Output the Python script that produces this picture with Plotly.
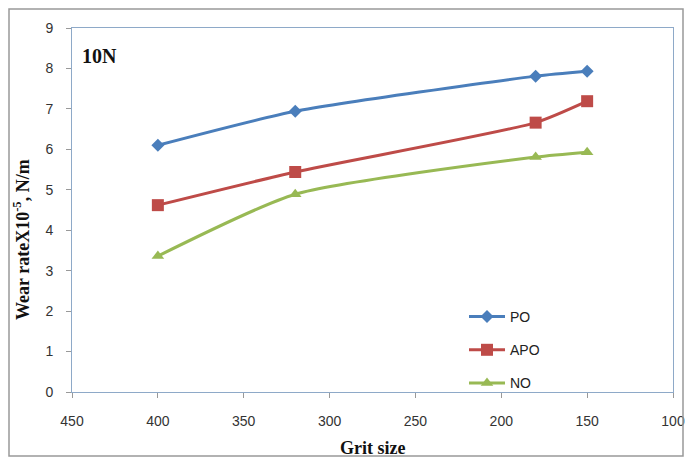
import plotly.graph_objects as go

grit = [400, 320, 180, 150]
po = [6.1, 6.94, 7.81, 7.93]
apo = [4.62, 5.44, 6.66, 7.19]
no = [3.36, 4.89, 5.81, 5.93]

names = ["PO", "APO", "NO"]
colors = ["#4A7EBB", "#BE4B48", "#98B954"]
symbols = ["diamond", "square", "triangle-up"]
msizes = [10, 12, 11]
series = [po, apo, no]

fig = go.Figure()
for nm, ys, c, s, ms in zip(names, series, colors, symbols, msizes):
    fig.add_trace(go.Scatter(
        x=grit, y=ys, name=nm, mode="lines+markers",
        line=dict(color=c, width=3, shape="spline", smoothing=0.6),
        marker=dict(symbol=s, size=ms, color=c),
        legendgroup=nm,
    ))

serif = "Times New Roman, Liberation Serif, serif"
sans = "Liberation Sans, Arial, sans-serif"
L, R, T, B = 72, 673, 28, 392
W, H = R - L, B - T

fig.update_layout(
    width=689, height=458,
    margin=dict(l=L, r=689 - R, t=T, b=458 - B, autoexpand=False),
    paper_bgcolor="white", plot_bgcolor="white",
    showlegend=True,
    legend=dict(x=(464 - L) / W, y=0.25, xanchor="left", yanchor="top",
                bgcolor="rgba(0,0,0,0)", font=dict(family=sans, size=14, color="#222"),
                tracegroupgap=12, itemwidth=36, traceorder="grouped"),
    xaxis=dict(range=[450, 100], tickvals=[450, 400, 350, 300, 250, 200, 150, 100],
               ticks="outside", ticklen=5, tickcolor="#999", ticklabelstandoff=11,
               showline=True, linecolor="#8EA9C8", linewidth=1, mirror=True,
               showgrid=False, zeroline=False, automargin=False,
               tickfont=dict(family=sans, size=14, color="#333")),
    yaxis=dict(range=[0, 9], dtick=1,
               ticks="outside", ticklen=5, tickcolor="#999", ticklabelstandoff=10,
               showline=True, linecolor="#8EA9C8", linewidth=1, mirror=True,
               showgrid=False, zeroline=False, automargin=False,
               tickfont=dict(family=sans, size=14, color="#333")),
    annotations=[
        dict(text="<b>10N</b>", x=0.013, y=0.96, xref="paper", yref="paper",
             xanchor="left", yanchor="top", showarrow=False,
             font=dict(family=serif, size=20, color="#111")),
        dict(text="<b>Grit size</b>", x=0.5, y=(B - 448) / H, xref="paper", yref="paper",
             xanchor="center", yanchor="middle", showarrow=False,
             font=dict(family=serif, size=18, color="#111")),
        dict(text="<b>Wear rateX10<sup>-5</sup>, N/m</b>", x=(22 - L) / W, y=(B - 240) / H,
             xref="paper", yref="paper", textangle=-90,
             xanchor="center", yanchor="middle", showarrow=False,
             font=dict(family=serif, size=18, color="#111")),
    ],
    shapes=[dict(type="rect", xref="paper", yref="paper",
                 x0=(9 - L) / W, x1=(683 - L) / W,
                 y0=(B - 456) / H, y1=(B - 9) / H,
                 line=dict(color="#999", width=1.5))],
)

fig.write_html("out.html")
